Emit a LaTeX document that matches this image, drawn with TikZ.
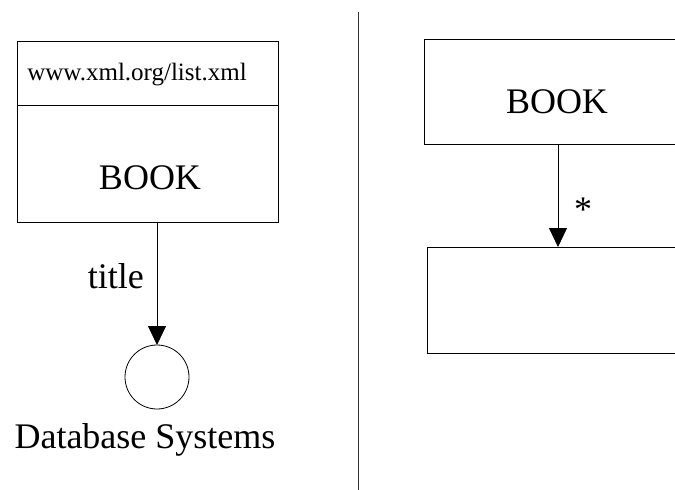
\documentclass[tikz,border=0pt]{standalone}
\usepackage{fontspec}
\setmainfont{Liberation Serif}
\usetikzlibrary{arrows.meta}
\begin{document}
\begin{tikzpicture}[x=1pt,y=-1pt,
  box/.style={draw=black,line width=0.8pt,inner sep=0pt,outer sep=0pt},
  conn/.style={draw=black,line width=0.8pt,-{Triangle[length=19pt,width=18pt]}},
  big/.style={font=\fontsize{36}{40}\selectfont,inner sep=0pt},
  small/.style={font=\fontsize{25}{28}\selectfont,inner sep=0pt}]
\clip (0,0) rectangle (675,490);
\fill[white] (0,0) rectangle (675,490);
% left side
\node[box,minimum width=261pt,minimum height=64pt] (url) at (147.5,73) {};
\node[small] (urltext) at (137,75) {www.xml.org/list.xml};
\node[box,minimum width=261pt,minimum height=117pt] (bookL) at (147.5,163.5) {};
\node[big] at (150,178) {BOOK};
\node[draw=black,line width=0.8pt,circle,minimum size=64pt,inner sep=0pt,outer sep=0pt] (val) at (157,377) {};
\node[big,anchor=east] (title) at (144,276) {title};
\node[big] (dbs) at (145,440) {Database Systems};
\draw[conn] (bookL.south -| val.north) -- (val.north);
% separator
\coordinate (sepTop) at (358,12);
\coordinate (sepBot) at (358,490);
\draw[line width=0.8pt,black!80] (sepTop) -- (sepBot);
% right side
\node[box,minimum width=270pt,minimum height=105pt] (bookR) at (559,91.5) {};
\node[big] at (557,102) {BOOK};
\node[box,minimum width=268pt,minimum height=106pt] (sub) at (561,300) {};
\coordinate (aTop) at (558,144);
\coordinate (aBot) at (558,247);
\draw[conn] (aTop) -- (aBot);
\node[big] (star) at (583,210) {*};
\end{tikzpicture}
\end{document}
